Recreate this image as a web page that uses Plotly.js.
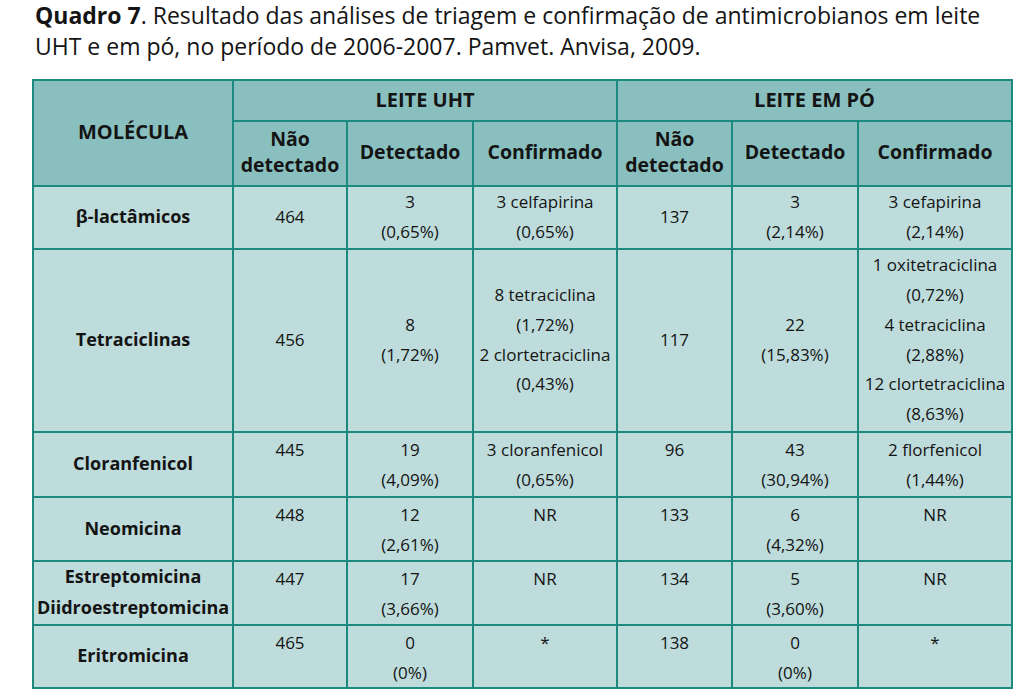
<!DOCTYPE html>
<html>
<head>
<meta charset="utf-8">
<script src="https://cdn.plot.ly/plotly-3.0.1.min.js"></script>
<style>
  html, body { margin: 0; padding: 0; background: #ffffff; }
  #chart { width: 1024px; height: 698px; }
</style>
</head>
<body>
<div id="chart"></div>
<script>
// Quadro 7 - antimicrobianos em leite UHT e em pó (Pamvet/Anvisa)
// Table drawn on hidden pixel-scaled axes: cell rects as shapes, text as a scatter text trace

const titleLines = [
  '<b>Quadro 7</b>. Resultado das análises de triagem e confirmação de antimicrobianos em leite',
  'UHT e em pó, no período de 2006-2007. Pamvet. Anvisa, 2009.'
];

const rowHeader = 'MOLÉCULA';
const groupLabels = ['LEITE UHT', 'LEITE EM PÓ'];
const subLabels = ['Não<br>detectado', 'Detectado', 'Confirmado'];

const molecules = ['β-lactâmicos', 'Tetraciclinas', 'Cloranfenicol', 'Neomicina',
  'Estreptomicina<br>Diidroestreptomicina', 'Eritromicina'];

const uhtNaoDetectado = [464, 456, 445, 448, 447, 465];
const uhtDetectado = [3, 8, 19, 12, 17, 0];
const uhtDetectadoPct = ['0,65%', '1,72%', '4,09%', '2,61%', '3,66%', '0%'];
const uhtConfirmado = [
  '3 celfapirina<br>(0,65%)',
  '8 tetraciclina<br>(1,72%)<br>2 clortetraciclina<br>(0,43%)',
  '3 cloranfenicol<br>(0,65%)',
  'NR', 'NR', '*'
];

const poNaoDetectado = [137, 117, 96, 133, 134, 138];
const poDetectado = [3, 22, 43, 6, 5, 0];
const poDetectadoPct = ['2,14%', '15,83%', '30,94%', '4,32%', '3,60%', '0%'];
const poConfirmado = [
  '3 cefapirina<br>(2,14%)',
  '1 oxitetraciclina<br>(0,72%)<br>4 tetraciclina<br>(2,88%)<br>12 clortetraciclina<br>(8,63%)',
  '2 florfenicol<br>(1,44%)',
  'NR', 'NR', '*'
];

// --- layout of the grid (pixels) ---
const colEdges = [33, 233, 347, 473, 617, 732, 858, 1012];
const headEdges = [80, 121, 186];
const bodyEdges = [186, 249, 432, 497, 561, 625, 688];
const bodyValign = ['middle', 'middle', 'top', 'top', 'top', 'top'];
const titleX = 35;
const titleY = [18, 49];

const HEAD_FILL = '#89c0bf';
const BODY_FILL = '#bedcdb';
const BORDER = '#1d8a80';
const INK = '#141414';
const FONT = 'Open Sans, sans-serif';

const shapes = [];
const tx = [], ty = [], tt = [], ts = [];

function cellRect(x0, x1, y0, y1, fill) {
  shapes.push({
    type: 'rect', xref: 'x', yref: 'y', x0, x1, y0, y1,
    fillcolor: fill, line: { color: BORDER, width: 2 }, layer: 'below'
  });
}

function cellText(text, x0, x1, y0, y1, valign, size, lineH, bold) {
  const lines = String(text).split('<br>');
  const cx = (x0 + x1) / 2;
  lines.forEach((ln, k) => {
    let y;
    if (valign === 'top') y = y0 + 20 + k * lineH;
    else y = (y0 + y1) / 2 + 1 + (k - (lines.length - 1) / 2) * lineH;
    tx.push(cx); ty.push(y);
    tt.push(bold ? '<b>' + ln + '</b>' : ln);
    ts.push(size);
  });
}

// header
cellRect(colEdges[0], colEdges[1], headEdges[0], headEdges[2], HEAD_FILL);
cellText(rowHeader, colEdges[0], colEdges[1], headEdges[0], headEdges[2], 'middle', 20, 26, true);
groupLabels.forEach((g, gi) => {
  const c0 = 1 + gi * 3;
  cellRect(colEdges[c0], colEdges[c0 + 3], headEdges[0], headEdges[1], HEAD_FILL);
  cellText(g, colEdges[c0], colEdges[c0 + 3], headEdges[0], headEdges[1], 'middle', 20, 26, true);
  subLabels.forEach((s, si) => {
    const c = c0 + si;
    cellRect(colEdges[c], colEdges[c + 1], headEdges[1], headEdges[2], HEAD_FILL);
    cellText(s, colEdges[c], colEdges[c + 1], headEdges[1], headEdges[2], 'middle', 19.5, 26, true);
  });
});

// body
molecules.forEach((m, i) => {
  const y0 = bodyEdges[i], y1 = bodyEdges[i + 1];
  const va = bodyValign[i];
  const vals = [
    uhtNaoDetectado[i],
    uhtDetectado[i] + '<br>(' + uhtDetectadoPct[i] + ')',
    uhtConfirmado[i],
    poNaoDetectado[i],
    poDetectado[i] + '<br>(' + poDetectadoPct[i] + ')',
    poConfirmado[i]
  ];
  cellRect(colEdges[0], colEdges[1], y0, y1, BODY_FILL);
  cellText(m, colEdges[0], colEdges[1], y0, y1, 'middle', 18, 31, true);
  vals.forEach((v, j) => {
    cellRect(colEdges[j + 1], colEdges[j + 2], y0, y1, BODY_FILL);
    cellText(v, colEdges[j + 1], colEdges[j + 2], y0, y1, va, 17, 29.8, false);
  });
});

const traces = [
  {
    type: 'scatter', mode: 'text',
    x: tx, y: ty, text: tt,
    textposition: 'middle center',
    textfont: { family: FONT, size: ts, color: INK },
    hoverinfo: 'skip', showlegend: false, cliponaxis: false
  },
  {
    type: 'scatter', mode: 'text',
    x: titleLines.map(() => titleX), y: titleY, text: titleLines,
    textposition: 'middle right',
    textfont: { family: FONT, size: 23, color: INK },
    hoverinfo: 'skip', showlegend: false, cliponaxis: false
  }
];

const hidden = { visible: false, fixedrange: true };

const layout = {
  width: 1024, height: 698,
  margin: { t: 0, b: 0, l: 0, r: 0 },
  paper_bgcolor: '#ffffff', plot_bgcolor: '#ffffff',
  xaxis: { ...hidden, range: [0, 1024] },
  yaxis: { ...hidden, range: [698, 0] },
  shapes: shapes
};

Plotly.newPlot('chart', traces, layout, { displayModeBar: false, staticPlot: true });
</script>
</body>
</html>
